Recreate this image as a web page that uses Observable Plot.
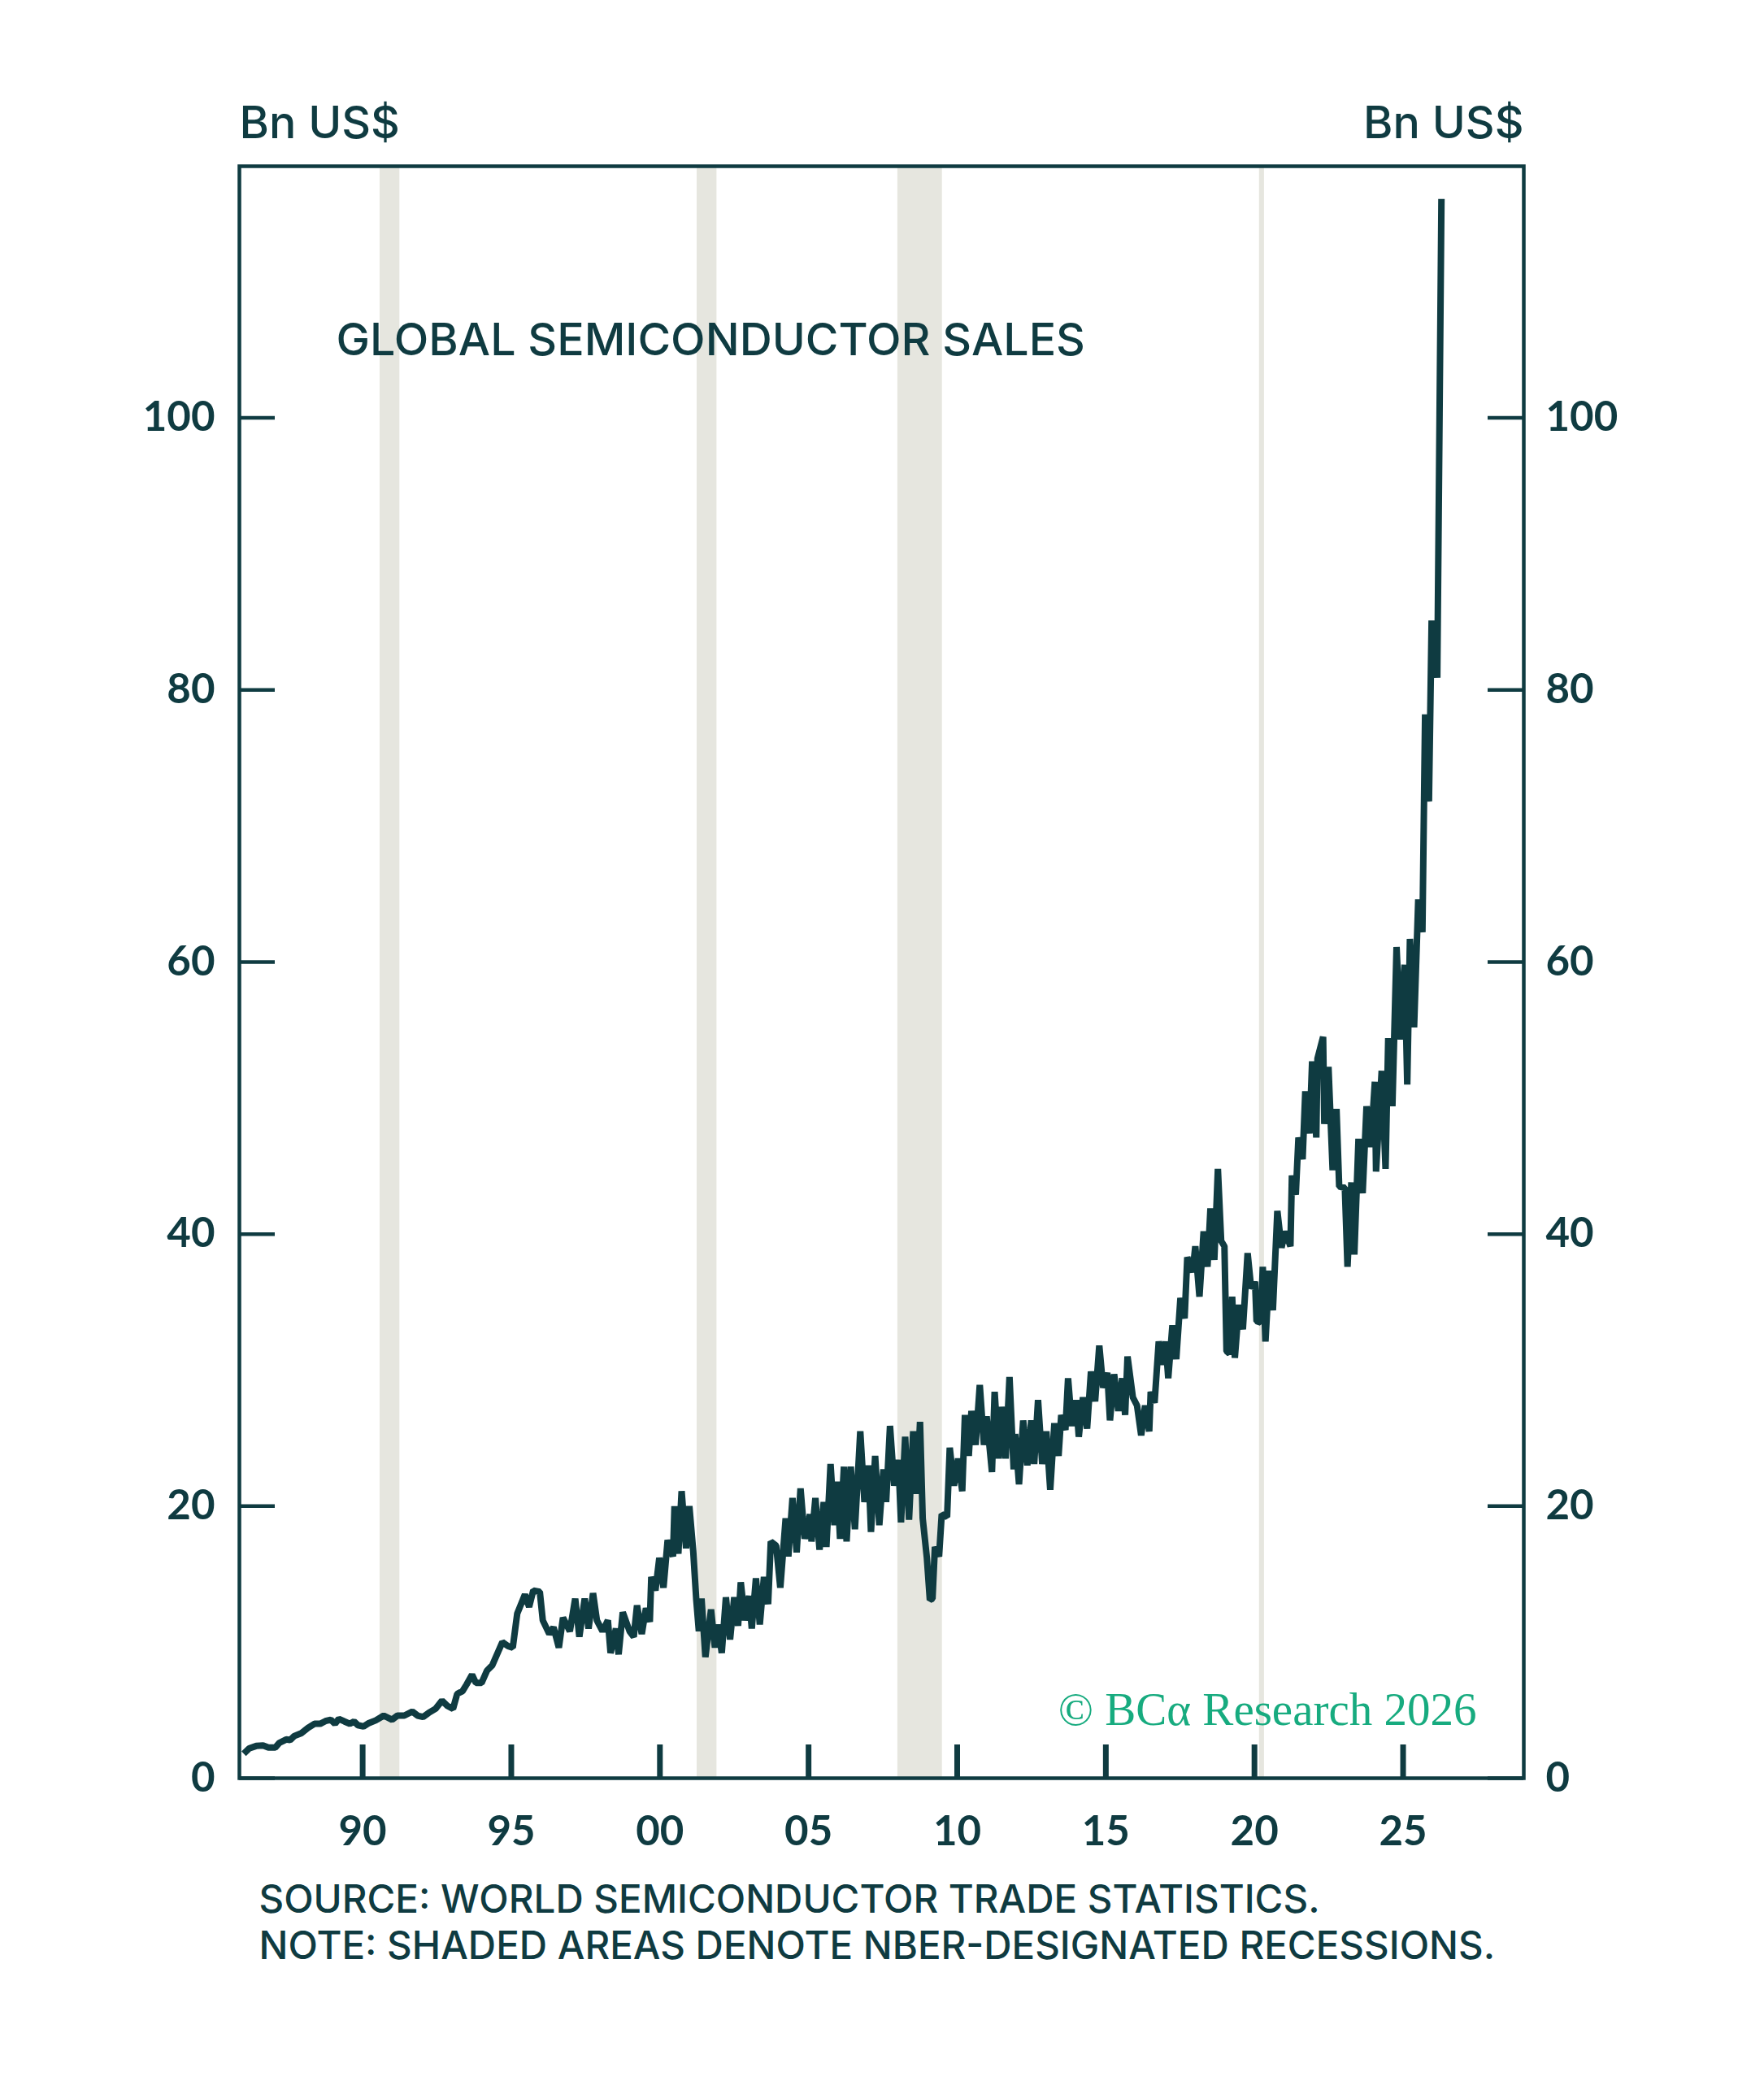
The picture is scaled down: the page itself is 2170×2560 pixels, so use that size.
<!DOCTYPE html>
<html><head><meta charset="utf-8">
<script src="https://cdn.jsdelivr.net/npm/d3@7"></script>
<script src="https://cdn.jsdelivr.net/npm/@observablehq/plot@0.6"></script>
<style>
html,body{margin:0;padding:0;background:#fff;}
#chart{width:2170px;height:2560px;}
</style></head><body><div id="chart"></div>
<script>
// Global semiconductor sales, Bn US$ (decimal year)
const dates = [
1986.0,1986.19,1986.42,1986.65,1986.83,1987.06,1987.2,1987.43,1987.56,1987.7,1987.93,
1988.16,1988.38,1988.57,1988.75,1988.93,1989.07,1989.2,1989.39,1989.57,1989.71,1989.84,
1990.03,1990.21,1990.44,1990.71,1990.99,1991.17,1991.4,1991.67,1991.85,1992.03,1992.22,
1992.45,1992.67,1992.86,1993.04,1993.18,1993.36,1993.5,1993.68,1993.81,1994.0,1994.18,
1994.36,1994.5,1994.7,1994.9,1995.05,1995.2,1995.46,1995.6,1995.74,1995.96,1996.06,
1996.28,1996.42,1996.6,1996.74,1996.97,1997.15,1997.29,1997.47,1997.6,1997.75,1997.88,
1998.07,1998.25,1998.34,1998.52,1998.61,1998.75,1998.98,1999.12,1999.23,1999.39,1999.53,
1999.66,1999.71,1999.85,1999.98,2000.12,2000.26,2000.44,2000.49,2000.62,2000.73,2000.88,
2000.99,2001.12,2001.22,2001.31,2001.4,2001.53,2001.72,2001.85,2001.95,2002.08,2002.22,
2002.36,2002.5,2002.63,2002.72,2002.86,2003.0,2003.09,2003.23,2003.36,2003.5,2003.64,
2003.73,2003.91,2004.05,2004.23,2004.32,2004.46,2004.6,2004.73,2004.87,2005.05,2005.1,
2005.23,2005.37,2005.51,2005.6,2005.74,2005.87,2005.96,2006.06,2006.19,2006.28,2006.42,
2006.56,2006.74,2006.88,2007.01,2007.1,2007.24,2007.38,2007.52,2007.61,2007.74,2007.88,
2008.02,2008.11,2008.25,2008.38,2008.52,2008.64,2008.75,2008.84,2008.98,2009.08,2009.17,
2009.25,2009.39,2009.48,2009.66,2009.75,2009.89,2010.03,2010.17,2010.26,2010.39,2010.48,
2010.62,2010.76,2010.9,2010.99,2011.17,2011.26,2011.4,2011.49,2011.63,2011.76,2011.9,
2011.95,2012.08,2012.22,2012.36,2012.49,2012.59,2012.72,2012.86,2013.0,2013.13,2013.27,
2013.41,2013.5,2013.64,2013.73,2013.86,2014.0,2014.09,2014.23,2014.37,2014.5,2014.64,
2014.78,2014.91,2015.05,2015.14,2015.28,2015.42,2015.55,2015.65,2015.73,2015.91,2016.05,
2016.19,2016.32,2016.46,2016.51,2016.64,2016.78,2016.92,2017.01,2017.1,2017.24,2017.37,
2017.51,2017.65,2017.74,2017.92,2018.01,2018.15,2018.29,2018.42,2018.52,2018.65,2018.77,
2018.88,2018.99,2019.06,2019.16,2019.25,2019.34,2019.48,2019.61,2019.77,2019.89,2020.02,
2020.07,2020.21,2020.28,2020.37,2020.5,2020.62,2020.77,2020.91,2021.03,2021.21,2021.26,
2021.39,2021.48,2021.62,2021.71,2021.85,2021.94,2022.08,2022.12,2022.31,2022.35,2022.49,
2022.63,2022.76,2022.85,2023.04,2023.13,2023.26,2023.36,2023.5,2023.64,2023.77,2023.91,
2024.05,2024.09,2024.28,2024.41,2024.5,2024.64,2024.78,2024.92,2025.05,2025.14,2025.23,
2025.37,2025.51,2025.65,2025.74,2025.87,2025.96,2026.15,2026.29
];
const sales = [
1.8,2.2,2.37,2.4,2.25,2.25,2.6,2.85,2.8,3.1,3.3,
3.7,4.0,4.0,4.2,4.3,4.0,4.36,4.17,4.0,4.17,3.9,
3.8,4.05,4.25,4.6,4.3,4.6,4.6,4.9,4.6,4.5,4.8,
5.1,5.7,5.3,5.1,6.2,6.4,6.9,7.6,7.0,7.0,7.9,
8.3,9.0,10.0,9.7,9.6,12.1,13.5,12.6,13.8,13.7,11.6,
10.6,11.1,9.6,11.8,10.8,13.2,10.4,13.2,11.0,13.6,11.6,
10.8,11.6,9.2,11.0,9.1,12.2,10.8,10.4,12.7,10.6,12.5,
11.5,14.8,13.8,16.2,14.0,17.5,16.3,20.0,16.5,21.1,16.9,
20.0,16.7,13.2,10.8,13.2,8.9,12.4,9.6,11.3,9.2,13.3,
10.2,13.3,11.2,14.4,11.6,13.4,11.0,14.7,11.3,14.8,12.8,
17.4,17.1,14.0,19.1,16.3,20.6,16.6,21.3,17.6,19.4,17.4,
20.6,16.8,20.3,17.0,23.1,18.6,21.8,17.6,22.9,17.4,22.9,
18.3,25.5,20.3,23.0,18.1,23.7,18.6,22.7,20.3,25.9,21.5,
23.4,18.8,25.1,19.0,25.5,20.9,26.2,19.1,16.2,13.1,13.2,
17.0,16.3,19.4,19.2,24.3,21.5,23.5,21.1,26.7,23.7,27.0,
24.5,28.9,24.5,26.6,22.5,28.4,23.5,27.3,23.5,29.5,22.7,
25.3,21.6,26.3,23.0,26.3,23.1,27.8,23.1,25.5,21.2,26.1,
23.7,26.7,25.6,29.4,25.9,27.8,25.1,28.0,25.7,29.9,27.7,
31.8,28.7,29.8,26.3,29.7,27.0,29.4,26.7,31.0,28.0,27.4,
25.2,27.4,25.5,28.4,27.6,32.1,30.4,32.1,29.4,33.3,30.8,
35.3,33.8,38.3,37.2,39.1,35.4,40.2,37.6,41.9,38.1,44.8,
39.5,39.1,31.4,31.2,35.4,30.9,34.8,33.0,38.6,36.0,36.5,
33.6,33.5,37.6,32.1,37.3,34.4,41.7,39.0,40.2,39.1,44.3,
42.9,47.1,45.5,50.5,47.4,52.7,47.1,52.9,54.5,48.1,52.3,
44.7,49.2,43.5,43.4,37.6,43.8,38.5,47.0,43.0,49.4,46.4,
51.2,44.6,52.0,44.8,54.4,49.4,61.1,54.3,59.8,51.0,61.7,
55.2,64.6,62.2,78.2,71.8,85.1,80.9,116.1
];
// NBER recessions (shaded from the month after the peak to the end of the trough month)
const recessionStart = ["1990-08","2001-04","2008-01","2020-03"];
const recessionEnd   = ["1991-04","2001-12","2009-07","2020-05"];
const xTicks = [1990,1995,2000,2005,2010,2015,2020,2025];
const xTickLabels = ["90","95","00","05","10","15","20","25"];
const yTicks = [0,20,40,60,80,100];
const yLabel = "Bn US$";
const titleText = "GLOBAL SEMICONDUCTOR SALES";
const watermark = "© BCα Research 2026";
const noteLines = ["SOURCE: WORLD SEMICONDUCTOR TRADE STATISTICS.","NOTE: SHADED AREAS DENOTE NBER-DESIGNATED RECESSIONS."];

const ink = "#0f3b41";
const shade = "#e6e6df";
const green = "#17ab7f";
const toYear = s => { const [y,m] = s.split("-").map(Number); return y + (m-1)/12; };
const series = dates.map((d,i) => ({x: d, y: sales[i]}));
const recessions = recessionStart.map((s,i) => ({s: toYear(s), e: toYear(recessionEnd[i])}));

const W = 2170, H = 2560, mL = 294, mR = 296, mT = 204, mB = 373;
const fW = W - mL - mR, fH = H - mT - mB;
const tickFont = {fontFamily: "Lato", fontWeight: 700, fontSize: 51, fill: ink};

const plot = Plot.plot({
  width: W, height: H,
  marginLeft: mL, marginRight: mR, marginTop: mT, marginBottom: mB,
  style: {background: "#fff", color: ink, overflow: "visible"},
  x: {domain: [1985.854, 2029.06]},
  y: {domain: [0, 118.5]},
  marks: [
    Plot.rect(recessions, {x1: "s", x2: "e", fill: shade}),
    Plot.line(series, {x: "x", y: "y", stroke: ink, strokeWidth: 8, strokeLinejoin: "bevel", strokeLinecap: "butt"}),
    Plot.frame({stroke: ink, strokeWidth: 4.5}),
    Plot.tickX(xTicks, {x: d => d, stroke: ink, strokeWidth: 7, insetTop: fH - 41}),
    Plot.tickY(yTicks, {y: d => d, stroke: ink, strokeWidth: 4.5, insetRight: fW - 44}),
    Plot.tickY(yTicks, {y: d => d, stroke: ink, strokeWidth: 4.5, insetLeft: fW - 44}),
    Plot.axisX({ticks: xTicks, tickFormat: d => xTickLabels[xTicks.indexOf(d)], tickSize: 0, tickPadding: 46, label: null, ...tickFont}),
    Plot.axisY({ticks: yTicks, anchor: "left", tickSize: 0, tickPadding: 30, label: null, ...tickFont}),
    Plot.axisY({ticks: yTicks, anchor: "right", tickSize: 0, tickPadding: 27, label: null, ...tickFont}),
    Plot.text([yLabel], {frameAnchor: "top-left", dy: -52, lineAnchor: "middle", textAnchor: "start", fontFamily: "Inter", fontWeight: 500, fontSize: 55.5, fill: ink}),
    Plot.text([yLabel], {frameAnchor: "top-right", dy: -52, lineAnchor: "middle", textAnchor: "end", fontFamily: "Inter", fontWeight: 500, fontSize: 55.5, fill: ink}),
    Plot.text([titleText], {frameAnchor: "top-left", dx: 119, dy: 215, lineAnchor: "middle", textAnchor: "start", fontFamily: "Inter", fontWeight: 500, fontSize: 55.5, fill: ink}),
    Plot.text([watermark], {frameAnchor: "bottom-right", dx: -58, dy: -84, lineAnchor: "middle", textAnchor: "end", fontFamily: "Liberation Serif", fontSize: 57, fill: green}),
    Plot.text([noteLines.join("\n")], {frameAnchor: "bottom-left", dx: 24, dy: 125, lineAnchor: "top", textAnchor: "start", lineHeight: 1.2, fontFamily: "Inter", fontWeight: 500, fontSize: 47.5, fill: ink})
  ]
});
document.getElementById("chart").appendChild(plot);
</script></body></html>
